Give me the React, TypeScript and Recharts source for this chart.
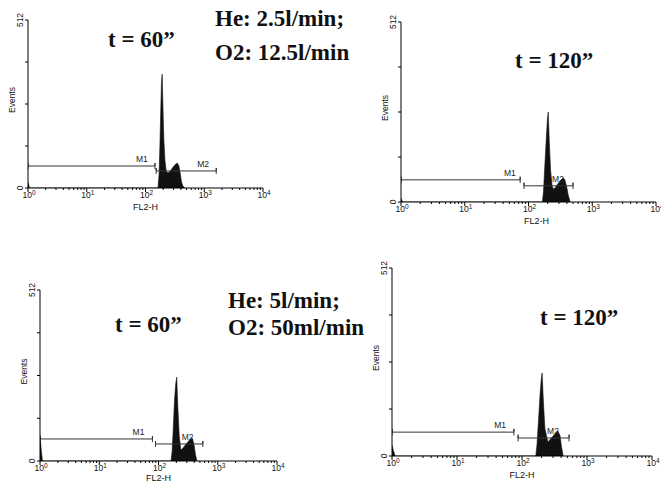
import React from 'react';
import { ComposedChart, Area, Line, XAxis, YAxis, ReferenceDot } from 'recharts';

// axis ticks
const decades = [1, 10, 100, 1000, 10000];
const minorSteps = [2, 3, 4, 5, 6, 7, 8, 9];
const xTicks = decades.flatMap((d, i) => (i < decades.length - 1 ? [d, ...minorSteps.map((s) => s * d)] : [d]));
const yTicks = [0, 128, 256, 384, 512];

// He 2.5 l/min, O2 12.5 l/min, t = 60"
const p1Fl2 = [1, 1.06, 163, 170, 176, 182, 187, 192, 198, 205, 214, 225, 240, 260, 285, 315, 345, 370, 390, 410, 435, 470];
const p1Events = [18, 0, 0, 40, 130, 240, 320, 347, 250, 150, 85, 52, 46, 50, 60, 70, 76, 68, 45, 18, 5, 0];
const p1Markers = [
  { name: 'M1', from: 1, to: 145, level: 67, labelAt: 87 },
  { name: 'M2', from: 152, to: 1600, level: 52, labelAt: 955 },
];

// He 2.5 l/min, O2 12.5 l/min, t = 120"
const p2Fl2 = [1, 1.06, 165, 172, 180, 190, 198, 204, 212, 222, 235, 248, 265, 290, 320, 350, 370, 395, 420, 450];
const p2Events = [11, 0, 0, 30, 100, 180, 235, 256, 170, 90, 45, 36, 42, 52, 62, 68, 64, 45, 20, 0];
const p2Markers = [
  { name: 'M1', from: 1, to: 74, level: 63, labelAt: 51 },
  { name: 'M2', from: 85, to: 500, level: 46, labelAt: 290 },
];

// He 5 l/min, O2 50 ml/min, t = 60"
const p3Fl2 = [1, 1.04, 1.1, 163, 170, 178, 186, 195, 203, 212, 224, 238, 258, 290, 330, 370, 395, 420, 445];
const p3Events = [78, 40, 0, 0, 30, 100, 180, 230, 251, 160, 75, 33, 38, 50, 62, 69, 52, 20, 0];
const p3Markers = [
  { name: 'M1', from: 1, to: 79, level: 66, labelAt: 46 },
  { name: 'M2', from: 89, to: 560, level: 51, labelAt: 310 },
];

// He 5 l/min, O2 50 ml/min, t = 120"
const p4Fl2 = [1, 1.05, 1.12, 163, 170, 180, 190, 198, 204, 213, 225, 250, 280, 320, 357, 385, 405, 430];
const p4Events = [30, 15, 0, 0, 30, 100, 170, 210, 226, 150, 75, 38, 48, 60, 68, 55, 25, 0];
const p4Markers = [
  { name: 'M1', from: 1, to: 75, level: 65, labelAt: 46 },
  { name: 'M2', from: 87, to: 530, level: 49, labelAt: 300 },
];

const SANS = 'Liberation Sans, Arial, sans-serif';
const SERIF = 'Liberation Serif, Times New Roman, serif';
const CAP = 9;
const PAD_L = 30;
const PAD_T = 10;
const PAD_R = 14;
const PAD_B = 30;

type Marker = { name: string; from: number; to: number; level: number; labelAt: number };

const zip = (xs: number[], ys: number[]) => xs.map((x, i) => ({ x, y: ys[i] }));

const markerPoints = (m: Marker) => [
  { x: m.from, y: m.level - CAP },
  { x: m.from, y: m.level + CAP },
  { x: m.from, y: m.level },
  { x: m.to, y: m.level },
  { x: m.to, y: m.level + CAP },
  { x: m.to, y: m.level - CAP },
];

function XTick({ x, y, payload }: any) {
  const v = payload.value;
  const major = decades.includes(v);
  return (
    <g>
      <line x1={x} x2={x} y1={y} y2={y + (major ? 4 : 2)} stroke="#000" strokeWidth={1} />
      {major && (
        <text x={x + 1} y={y + 10} textAnchor="middle" fontSize={8.5} fontFamily={SANS} fill="#111">
          10<tspan dy={-3} fontSize={6.5}>{Math.round(Math.log10(v))}</tspan>
        </text>
      )}
    </g>
  );
}

function YTick({ x, y, payload }: any) {
  const v = payload.value;
  return (
    <g>
      <line x1={x - 3} x2={x} y1={y} y2={y} stroke="#000" strokeWidth={1} />
      {(v === 0 || v === 512) && (
        <text transform={`translate(${x - 5},${y}) rotate(-90)`} textAnchor="middle" fontSize={8.5} fontFamily={SANS} fill="#111">
          {v}
        </text>
      )}
    </g>
  );
}

type Box = { x0: number; x1: number; y0: number; y1: number; labelShift?: number; labelDrop?: number };

function Histogram({ box, fl2, events, markers }: { box: Box; fl2: number[]; events: number[]; markers: Marker[] }) {
  const w = box.x1 - box.x0 + PAD_L + PAD_R;
  const h = box.y1 - box.y0 + PAD_T + PAD_B;
  return (
    <div style={{ position: 'absolute', left: box.x0 - PAD_L, top: box.y0 - PAD_T }}>
      <ComposedChart width={w} height={h} margin={{ top: PAD_T, right: PAD_R, bottom: 0, left: 0 }}>
        <XAxis
          type="number"
          dataKey="x"
          scale="log"
          domain={[1, 10000]}
          allowDataOverflow
          ticks={xTicks}
          interval={0}
          height={PAD_B}
          tickSize={0}
          tickMargin={0}
          tickLine={false}
          axisLine={{ stroke: '#000' }}
          tick={(p: any) => <XTick {...p} />}
          label={{
            content: (p: any) => {
              const vb = p.viewBox || { x: 0, y: 0, width: 0 };
              return (
                <text x={vb.x + vb.width / 2 + (box.labelShift || 0)} y={vb.y + (box.labelDrop || 22)} textAnchor="middle" fontSize={9} fontFamily={SANS} fill="#111">
                  FL2-H
                </text>
              );
            },
          }}
        />
        <YAxis
          type="number"
          domain={[0, 512]}
          allowDataOverflow
          ticks={yTicks}
          interval={0}
          width={PAD_L}
          tickSize={0}
          tickMargin={0}
          tickLine={false}
          axisLine={{ stroke: '#000' }}
          tick={(p: any) => <YTick {...p} />}
          label={{
            content: (p: any) => {
              const vb = p.viewBox || { x: 0, y: 0, width: 0, height: 0 };
              const cx = vb.x + vb.width - 13;
              const cy = vb.y + vb.height / 2 - 4;
              return (
                <text transform={`translate(${cx},${cy}) rotate(-90)`} textAnchor="middle" fontSize={8.5} fontFamily={SANS} fill="#111">
                  Events
                </text>
              );
            },
          }}
        />
        <Area
          data={zip(fl2, events)}
          dataKey="y"
          type="linear"
          stroke="#111"
          strokeWidth={0.6}
          fill="#111"
          fillOpacity={1}
          dot={false}
          activeDot={false}
          isAnimationActive={false}
        />
        {markers.map((m) => (
          <Line
            key={m.name}
            data={markerPoints(m)}
            dataKey="y"
            type="linear"
            stroke="#333"
            strokeWidth={1}
            dot={false}
            activeDot={false}
            isAnimationActive={false}
          />
        ))}
        {markers.map((m) => (
          <ReferenceDot
            key={`lbl-${m.name}`}
            x={m.labelAt}
            y={m.level}
            r={0}
            fill="none"
            stroke="none"
            label={{ value: m.name, position: 'top', offset: 4, fontSize: 8.5, fontFamily: SANS, fill: '#222' }}
          />
        ))}
      </ComposedChart>
    </div>
  );
}

const titleStyle = { fontFamily: SERIF, fontWeight: 700, fontSize: 23, fill: '#111' } as const;

export default function App() {
  return (
    <div style={{ position: 'absolute', left: 0, top: 0, width: 661, height: 484, overflow: 'hidden', background: '#fff' }}>
      <Histogram box={{ x0: 28, x1: 263, y0: 20, y1: 188 }} fl2={p1Fl2} events={p1Events} markers={p1Markers} />
      <Histogram box={{ x0: 401, x1: 656, y0: 22, y1: 202, labelShift: 8 }} fl2={p2Fl2} events={p2Events} markers={p2Markers} />
      <Histogram box={{ x0: 40, x1: 277, y0: 290, y1: 461, labelDrop: 20 }} fl2={p3Fl2} events={p3Events} markers={p3Markers} />
      <Histogram box={{ x0: 392, x1: 652, y0: 268, y1: 456 }} fl2={p4Fl2} events={p4Events} markers={p4Markers} />
      <svg width={661} height={484} style={{ position: 'absolute', left: 0, top: 0, pointerEvents: 'none' }}>
        <text x={108} y={47} style={titleStyle}>t = 60”</text>
        <text x={215} y={26} style={titleStyle}>He: 2.5l/min;</text>
        <text x={215} y={60} style={titleStyle}>O2: 12.5l/min</text>
        <text x={515} y={68} style={titleStyle}>t = 120”</text>
        <text x={115} y={332} style={titleStyle}>t = 60”</text>
        <text x={228} y={308} style={titleStyle}>He: 5l/min;</text>
        <text x={228} y={335} style={titleStyle}>O2: 50ml/min</text>
        <text x={540} y={325} style={titleStyle}>t = 120”</text>
      </svg>
    </div>
  );
}
